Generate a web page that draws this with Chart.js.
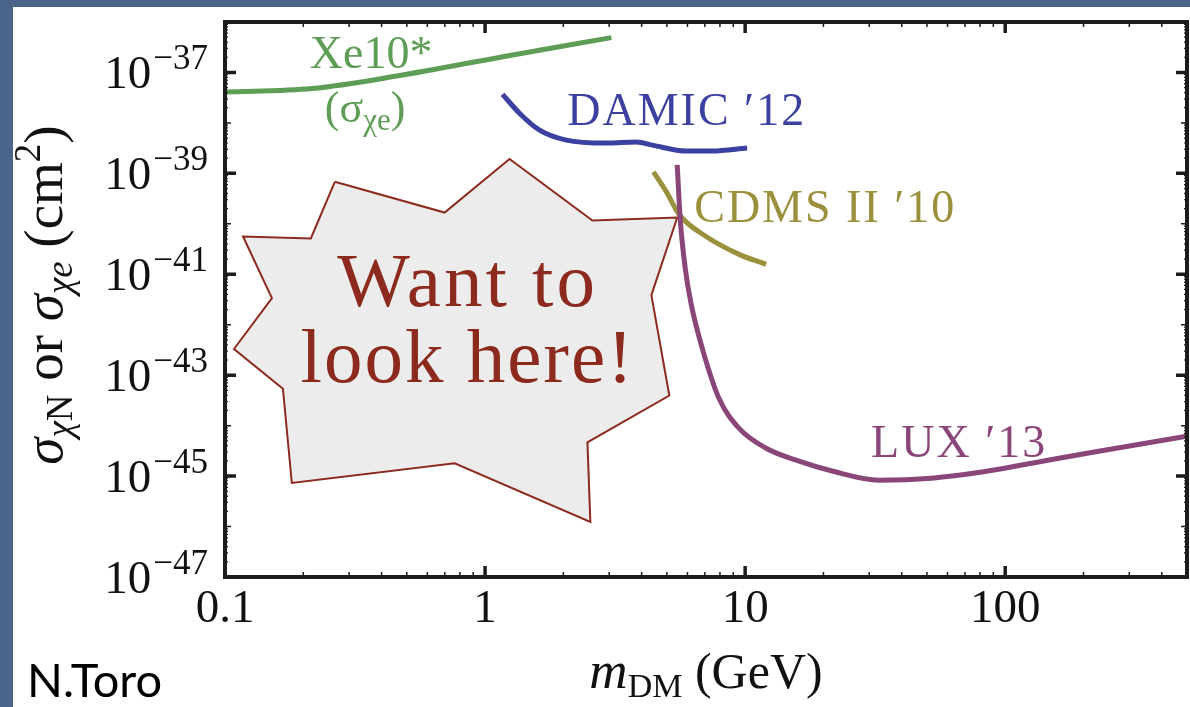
<!DOCTYPE html>
<html>
<head>
<meta charset="utf-8">
<script src="https://cdn.jsdelivr.net/npm/chart.js@4.4.1/dist/chart.umd.min.js"></script>
<style>
  html, body { margin: 0; padding: 0; }
  body { width: 1190px; height: 707px; background: #4b648a; position: relative; overflow: hidden; }
  #panel { position: absolute; left: 13px; top: 7px; right: 0; bottom: 0; background: #fff; }
  #plot { position: absolute; left: 0; top: 0; }
</style>
</head>
<body>
<div id="panel"></div>
<canvas id="plot" width="1190" height="707"></canvas>
<script>
// limits (mass in GeV, cross section in cm^2)
const xe10Mass   = [0.1, 0.216, 0.47, 1.2, 3.06];
const xe10Sigma  = [4.1e-38, 4.8e-38, 8.7e-38, 2.1e-37, 4.9e-37];

const damicMass  = [1.167, 1.356, 1.62, 2.05, 2.93, 3.82, 4.40, 5.94, 7.47, 10.18];
const damicSigma = [3.69e-38, 1.56e-38, 7.2e-39, 4.57e-39, 3.98e-39, 4.17e-39, 3.63e-39, 2.77e-39, 2.77e-39, 3.18e-39];

const cdmsMass   = [4.44, 4.98, 5.58, 7.08, 9.48, 12.04];
const cdmsSigma  = [1.07e-39, 4.3e-40, 1.52e-40, 5.6e-41, 2.48e-41, 1.57e-41];

const luxMass    = [5.48, 5.63, 5.89, 6.20, 6.85, 7.94, 9.48, 12.04, 16.12, 21.6, 32.7, 52.2, 81.3, 126.4, 228.6, 498];
const luxSigma   = [1.47e-39, 1.21e-40, 1.26e-41, 2.57e-42, 3.33e-43, 3.44e-44, 8.8e-45, 3.56e-45, 1.98e-45, 1.26e-45, 8.3e-46, 9.1e-46, 1.2e-45, 1.8e-45, 3.1e-45, 6.14e-45];

// "want to look here" starburst outline
const burstMass  = [0.2644, 0.699, 1.242, 2.587, 5.48, 4.36, 5.11, 2.475, 2.54, 0.764, 0.1807, 0.167, 0.1083, 0.1515, 0.1173, 0.2138, 0.2644];
const burstSigma = [6.8e-40, 1.67e-40, 1.93e-39, 1.16e-40, 1.33e-40, 3.85e-42, 3.95e-44, 4.68e-45, 1.24e-46, 1.8e-45, 7.3e-46, 5.4e-44, 3.3e-43, 3.37e-42, 5.6e-41, 5.13e-41, 6.8e-40];

// axis ticks
const xTickVals  = [0.1, 1, 10, 100];
const xTickText  = ['0.1', '1', '10', '100'];
const yTickExps  = [-37, -39, -41, -43, -45, -47];

const SERIF = "'Liberation Serif', 'Times New Roman', serif";
const C = { xe: '#5e9d55', damic: '#3c41a1', cdms: '#9b903b', lux: '#8b4679', burst: '#8c2b1d' };

const pts = (xs, ys) => xs.map((x, i) => ({ x, y: ys[i] }));

function curve(data, color) {
  return {
    data, borderColor: color, borderWidth: 5, pointRadius: 0,
    tension: 0.4, cubicInterpolationMode: 'monotone', fill: false, borderCapStyle: 'butt'
  };
}

// draw a run of [text, font, dy] pieces, returns width
function rich(ctx, parts, x, y, measureOnly) {
  let cx = x;
  for (const p of parts) {
    ctx.font = p[1];
    if (!measureOnly) ctx.fillText(p[0], cx, y + (p[2] || 0));
    cx += ctx.measureText(p[0]).width;
  }
  return cx - x;
}

const decor = {
  id: 'decor',
  afterDatasetsDraw(chart) {
    const { ctx, chartArea: a, scales: { x: xs, y: ys } } = chart;
    ctx.save();
    ctx.fillStyle = '#111';
    ctx.strokeStyle = '#1c1c1c';
    ctx.textBaseline = 'alphabetic';

    // frame
    ctx.lineWidth = 4;
    ctx.strokeRect(a.left, a.top, a.right - a.left, a.bottom - a.top);

    // x ticks, inward on bottom and top
    for (let e = -1; e <= 2; e++) {
      for (let k = 1; k <= 9; k++) {
        const v = Number(k + 'e' + e);
        if (v > xs.max) break;
        const px = xs.getPixelForValue(v);
        const len = k === 1 ? 11 : 5;
        ctx.lineWidth = k === 1 ? 3.5 : 1.5;
        ctx.beginPath();
        ctx.moveTo(px, a.bottom); ctx.lineTo(px, a.bottom - len);
        ctx.moveTo(px, a.top);    ctx.lineTo(px, a.top + len);
        ctx.stroke();
      }
    }
    // y ticks, inward on left and right
    for (let e = -47; e <= -37; e++) {
      for (let k = 1; k <= 9; k++) {
        const v = Number(k + 'e' + e);
        if (v > ys.max) break;
        const py = ys.getPixelForValue(v);
        let len = 3, lw = 1.2;
        if (k === 1) { len = yTickExps.includes(e) ? 11 : 6; lw = yTickExps.includes(e) ? 3.5 : 1.5; }
        ctx.lineWidth = lw;
        ctx.beginPath();
        ctx.moveTo(a.left, py);  ctx.lineTo(a.left + len, py);
        ctx.moveTo(a.right, py); ctx.lineTo(a.right - len, py);
        ctx.stroke();
      }
    }

    // x tick labels
    ctx.font = '47px ' + SERIF;
    ctx.textAlign = 'center';
    xTickVals.forEach((v, i) => ctx.fillText(xTickText[i], xs.getPixelForValue(v), 622));

    // y tick labels 10^e
    ctx.textAlign = 'right';
    yTickExps.forEach(e => {
      const py = ys.getPixelForValue(Number('1e' + e));
      ctx.font = '35px ' + SERIF;
      const sup = '\u2212' + Math.abs(e);
      ctx.fillText(sup, 208, py - 3);
      const w = ctx.measureText(sup).width;
      ctx.font = '47px ' + SERIF;
      ctx.fillText('10', 208 - w - 2, py + 16);
    });

    ctx.textAlign = 'left';
    // x title
    const xt = [['m', 'italic 53px ' + SERIF], ['DM', '34px ' + SERIF, 9], [' (GeV)', '50px ' + SERIF]];
    const xw = rich(ctx, xt, 0, 0, true);
    rich(ctx, xt, 706 - xw / 2, 688);

    // y title, rotated
    const yt = [
      ['\u03c3', 'italic 55px ' + SERIF], ['\u03c7', 'italic 37px ' + SERIF, 10], ['N', '37px ' + SERIF, 10],
      [' or ', '55px ' + SERIF],
      ['\u03c3', 'italic 55px ' + SERIF], ['\u03c7e', 'italic 37px ' + SERIF, 10],
      [' (cm', '55px ' + SERIF], ['2', '37px ' + SERIF, -22], [')', '55px ' + SERIF]
    ];
    const yw = rich(ctx, yt, 0, 0, true);
    ctx.save();
    ctx.translate(62, 295);
    ctx.rotate(-Math.PI / 2);
    rich(ctx, yt, -yw / 2, 0);
    ctx.restore();

    // curve labels
    const at = (m, s) => [xs.getPixelForValue(m), ys.getPixelForValue(s)];
    const lab = (txt, color, m, s, size, spacing) => {
      const [px, py] = at(m, s);
      ctx.fillStyle = color;
      ctx.font = size + 'px ' + SERIF;
      ctx.letterSpacing = spacing || '0px';
      ctx.fillText(txt, px, py);
      ctx.letterSpacing = '0px';
    };
    lab('Xe10*', C.xe, 0.212, 1.2e-37, 46);
    ctx.fillStyle = C.xe;
    const [sx, sy] = at(0.242, 1.13e-38);
    rich(ctx, [['(\u03c3', '44px ' + SERIF], ['\u03c7e', '31px ' + SERIF, 8], [')', '44px ' + SERIF]], sx, sy + 2);
    lab('DAMIC \u203212', C.damic, 2.07, 9.0e-39, 46, '2px');
    lab('CDMS II \u203210', C.cdms, 6.37, 1.1e-40, 46, '2px');
    lab('LUX \u203213', C.lux, 30.5, 2.37e-45, 46, '2px');

    // starburst text
    ctx.textAlign = 'center';
    ctx.fillStyle = C.burst;
    ctx.font = '77px ' + SERIF;
    ctx.letterSpacing = '3px';
    let [wx, wy] = at(0.857, 2.34e-42);
    ctx.fillText('Want to', wx, wy);
    ctx.letterSpacing = '2px';
    [wx, wy] = at(0.857, 7.4e-44);
    ctx.fillText('look here!', wx, wy);
    ctx.letterSpacing = '0px';

    // credit
    ctx.textAlign = 'left';
    ctx.fillStyle = '#000';
    ctx.font = "47px Lato, 'Open Sans', sans-serif";
    ctx.fillText('N.Toro', 27, 697);
    ctx.restore();
  }
};

new Chart(document.getElementById('plot').getContext('2d'), {
  type: 'line',
  data: {
    datasets: [
      curve(pts(luxMass, luxSigma), C.lux),
      curve(pts(cdmsMass, cdmsSigma), C.cdms),
      curve(pts(damicMass, damicSigma), C.damic),
      curve(pts(xe10Mass, xe10Sigma), C.xe),
      {
        data: pts(burstMass, burstSigma), borderColor: C.burst, borderWidth: 2,
        backgroundColor: '#ececec', fill: 'shape', tension: 0, pointRadius: 0, borderJoinStyle: 'miter'
      }
    ]
  },
  options: {
    responsive: false,
    animation: false,
    devicePixelRatio: 1,
    layout: { padding: { left: 225, top: 22, right: 3, bottom: 130 } },
    plugins: { legend: { display: false }, tooltip: { enabled: false } },
    scales: {
      x: { type: 'logarithmic', min: 0.1, max: 500, display: false },
      y: { type: 'logarithmic', min: 1e-47, max: 1e-36, display: false }
    }
  },
  plugins: [decor]
});
</script>
</body>
</html>
